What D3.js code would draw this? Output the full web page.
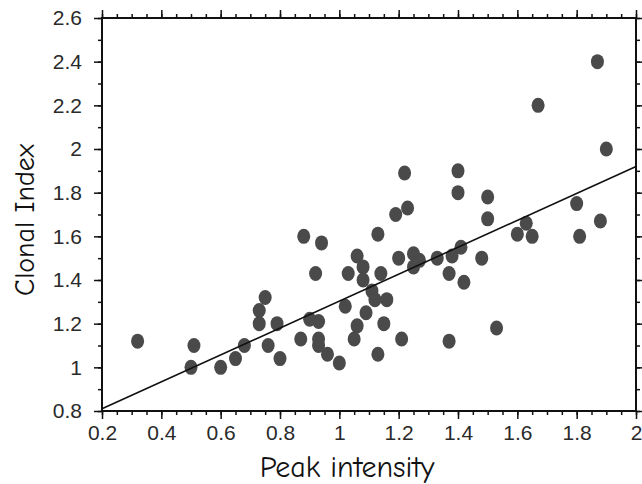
<!DOCTYPE html>
<html>
<head>
<meta charset="utf-8">
<script src="https://cdn.jsdelivr.net/npm/d3@7"></script>
<style>
  html, body { margin: 0; padding: 0; background: #fff; }
  svg { display: block; }
  .tick text { font-family: "Liberation Sans", Arial, sans-serif; font-size: 21px; fill: #2a2a2a; }
  .title { font-family: "Comic Sans MS", "Comic Neue", "DejaVu Sans", sans-serif; fill: #111; }
</style>
</head>
<body>
<script>
// ---- data ----
const peakIntensity = [0.32,0.50,0.51,0.60,0.65,0.68,0.73,0.73,0.75,0.76,0.79,0.80,
  0.87,0.88,0.90,0.92,0.93,0.93,0.93,0.94,0.96,1.00,
  1.02,1.03,1.05,1.06,1.06,1.08,1.08,1.09,1.11,1.12,1.13,1.13,1.14,1.15,1.16,
  1.19,1.20,1.21,1.22,1.23,1.25,1.25,1.27,1.33,1.37,1.37,1.38,1.40,1.40,1.41,1.42,1.48,1.50,1.50,1.53,
  1.60,1.63,1.65,1.67,1.80,1.81,1.87,1.88,1.90];
const clonalIndex = [1.12,1.00,1.10,1.00,1.04,1.10,1.20,1.26,1.32,1.10,1.20,1.04,
  1.13,1.60,1.22,1.43,1.21,1.13,1.10,1.57,1.06,1.02,
  1.28,1.43,1.13,1.19,1.51,1.46,1.40,1.25,1.35,1.31,1.06,1.61,1.43,1.20,1.31,
  1.70,1.50,1.13,1.89,1.73,1.52,1.46,1.49,1.50,1.12,1.43,1.51,1.90,1.80,1.55,1.39,1.50,1.78,1.68,1.18,
  1.61,1.66,1.60,2.20,1.75,1.60,2.40,1.67,2.00];
const fitX = [0.2, 2.0];
const fitY = [0.81, 1.92];
const xTicks = [0.2,0.4,0.6,0.8,1.0,1.2,1.4,1.6,1.8,2.0];
const yTicks = [0.8,1.0,1.2,1.4,1.6,1.8,2.0,2.2,2.4,2.6];
const xLabel = "Peak intensity";
const yLabel = "Clonal Index";

// ---- layout ----
const W = 642, H = 484;
const m = {left: 102, right: 6, top: 18, bottom: 73};
const svg = d3.select("body").append("svg").attr("width", W).attr("height", H);

const x = d3.scaleLinear().domain([0.2, 2.0]).range([m.left, W - m.right]);
const y = d3.scaleLinear().domain([0.8, 2.6]).range([H - m.bottom, m.top]);

const fmt = d => d3.format("~g")(d);
const xMinor = d3.range(0.2, 2.0001, 0.05).map(v => +v.toFixed(2));
const yMinor = d3.range(0.8, 2.6001, 0.1).map(v => +v.toFixed(2));

function styleAxis(g) {
  g.select(".domain").remove();
  g.selectAll(".tick line").attr("stroke", "#111").attr("stroke-width", 1.5);
}

// minor ticks
svg.append("g").attr("transform", `translate(0,${y(0.8)})`)
  .call(d3.axisBottom(x).tickValues(xMinor).tickSize(4).tickFormat("")).call(styleAxis);
svg.append("g").attr("transform", `translate(0,${y(2.6)})`)
  .call(d3.axisTop(x).tickValues(xMinor).tickSize(4).tickFormat("")).call(styleAxis);
svg.append("g").attr("transform", `translate(${x(0.2)},0)`)
  .call(d3.axisLeft(y).tickValues(yMinor).tickSize(4).tickFormat("")).call(styleAxis);
svg.append("g").attr("transform", `translate(${x(2.0)},0)`)
  .call(d3.axisRight(y).tickValues(yMinor).tickSize(4).tickFormat("")).call(styleAxis);

// major ticks
svg.append("g").attr("transform", `translate(0,${y(0.8)})`)
  .call(d3.axisBottom(x).tickValues(xTicks).tickSize(8).tickPadding(6).tickFormat(fmt)).call(styleAxis);
svg.append("g").attr("transform", `translate(0,${y(2.6)})`)
  .call(d3.axisTop(x).tickValues(xTicks).tickSize(8).tickFormat("")).call(styleAxis);
svg.append("g").attr("transform", `translate(${x(0.2)},0)`)
  .call(d3.axisLeft(y).tickValues(yTicks).tickSize(8).tickPadding(12).tickFormat(fmt)).call(styleAxis);
svg.append("g").attr("transform", `translate(${x(2.0)},0)`)
  .call(d3.axisRight(y).tickValues(yTicks).tickSize(8).tickFormat("")).call(styleAxis);

// frame
svg.append("rect")
  .attr("x", x(0.2)).attr("y", y(2.6))
  .attr("width", x(2.0) - x(0.2)).attr("height", y(0.8) - y(2.6))
  .attr("fill", "none").attr("stroke", "#111").attr("stroke-width", 2);

// points
const pts = peakIntensity.map((v, i) => ({x: v, y: clonalIndex[i]}));
svg.append("g").selectAll("ellipse").data(pts).join("ellipse")
  .attr("cx", d => x(d.x)).attr("cy", d => y(d.y))
  .attr("rx", 6.5).attr("ry", 7.5)
  .attr("fill", "#4a4a4a");

// regression line
svg.append("line")
  .attr("x1", x(fitX[0])).attr("y1", y(fitY[0]))
  .attr("x2", x(fitX[1])).attr("y2", y(fitY[1]))
  .attr("stroke", "#111").attr("stroke-width", 1.6);

// titles
svg.append("text").attr("class", "title")
  .attr("x", 347).attr("y", 477)
  .style("font-size", "30px")
  .attr("text-anchor", "middle").text(xLabel);
svg.append("text").attr("class", "title")
  .attr("transform", `translate(34,220) rotate(-90)`)
  .style("font-size", "28px")
  .attr("text-anchor", "middle").text(yLabel);
</script>
</body>
</html>
